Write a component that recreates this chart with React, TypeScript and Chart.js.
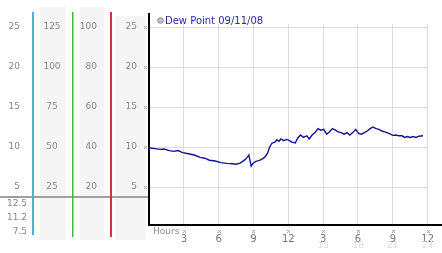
import React, { useEffect, useRef } from 'react';
import { Chart, registerables } from 'chart.js';

Chart.register(...registerables);

// ---- data ----
const hours = [
  0, 0.5, 1.0, 1.3, 1.75, 2.15, 2.5, 2.9, 3.4, 3.9, 4.4, 4.8, 5.2, 5.7, 6.2, 6.7, 7.2, 7.5, 7.8, 8.0,
  8.3, 8.45, 8.6, 8.7, 8.8, 8.95, 9.2, 9.45, 9.7, 9.95, 10.2, 10.4, 10.6, 10.85, 11.0, 11.2, 11.35,
  11.6, 11.85, 12.1, 12.3, 12.6, 12.8, 13.05, 13.3, 13.6, 13.8, 14.05, 14.3, 14.55, 14.8, 15.05,
  15.3, 15.55, 15.8, 16.05, 16.3, 16.55, 16.8, 17.05, 17.3, 17.55, 17.8, 18.05, 18.3, 18.55, 18.8,
  19.05, 19.3, 19.55, 19.8, 20.05, 20.3, 20.5, 20.8, 21.0, 21.3, 21.5, 21.8, 22.0, 22.25, 22.5,
  22.75, 23.0, 23.25, 23.6,
];
const dewPoint = [
  9.9, 9.8, 9.7, 9.75, 9.55, 9.45, 9.55, 9.3, 9.15, 9.0, 8.7, 8.6, 8.35, 8.25, 8.05, 7.95, 7.9, 7.85,
  7.95, 8.15, 8.45, 8.7, 9.0, 8.3, 7.6, 7.95, 8.2, 8.3, 8.45, 8.7, 9.2, 10.0, 10.5, 10.6, 10.9, 10.7,
  11.0, 10.8, 10.95, 10.8, 10.6, 10.5, 11.1, 11.5, 11.2, 11.4, 11.0, 11.5, 11.8, 12.3, 12.1, 12.2,
  11.6, 11.9, 12.3, 12.1, 11.9, 11.8, 11.6, 11.8, 11.5, 11.8, 12.2, 11.7, 11.6, 11.8, 12.0, 12.3,
  12.5, 12.3, 12.2, 12.0, 11.9, 11.8, 11.6, 11.45, 11.5, 11.4, 11.4, 11.2, 11.3, 11.2, 11.3, 11.2,
  11.35, 11.4,
];
const legendLabel = 'Dew Point 09/11/08';
const xTicks = [3, 6, 9, 12, 15, 18, 21, 24];
const xTickLabels = ['3', '6', '9', '12', '3', '6', '9', '12'];
const xSubLabels = ['', '', '', '', '15', '18', '21', '24'];
const yTicks = [5, 10, 15, 20, 25];
const col1Labels = ['5', '10', '15', '20', '25'];
const col2Labels = ['25', '50', '75', '100', '125'];
const col3Labels = ['20', '40', '60', '80', '100'];
const lowerLabels = ['12.5', '11.2', '7.5'];
const axisTitle = 'Hours';

const FONT = '"DejaVu Sans", Verdana, sans-serif';
const LABEL = '#888888';

function drawMark(ctx: CanvasRenderingContext2D, cx: number, cy: number) {
  ctx.fillStyle = '#a8a8a8';
  const x = Math.round(cx) - 1;
  const y = Math.round(cy) - 1;
  ctx.fillRect(x, y, 1, 1);
  ctx.fillRect(x + 2, y, 1, 1);
  ctx.fillRect(x + 1, y + 1, 1, 1);
  ctx.fillRect(x, y + 2, 1, 1);
  ctx.fillRect(x + 2, y + 2, 1, 1);
}

const panelPlugin = {
  id: 'panel',
  beforeDraw(chart: any) {
    const ctx = chart.ctx as CanvasRenderingContext2D;
    const ys = chart.scales.y;
    ctx.save();
    ctx.fillStyle = '#ffffff';
    ctx.fillRect(0, 0, chart.width, chart.height);
    // column backgrounds
    ctx.fillStyle = '#f5f5f5';
    ctx.fillRect(40, 7, 26, 233);
    ctx.fillRect(80, 7, 24, 233);
    ctx.fillRect(115, 16, 31, 224);
    // separator
    ctx.fillStyle = '#a0a0a0';
    ctx.fillRect(0, 196, 149, 2);
    // colored vertical rules
    ctx.fillStyle = '#45b4d8';
    ctx.fillRect(32, 12, 2, 223);
    ctx.fillStyle = '#44b444';
    ctx.fillRect(72, 12, 1.5, 225);
    ctx.fillStyle = '#c43a3a';
    ctx.fillRect(110, 12, 2, 225);
    // column labels
    ctx.font = `9px ${FONT}`;
    ctx.fillStyle = LABEL;
    ctx.textBaseline = 'middle';
    yTicks.forEach((v, i) => {
      const py = ys.getPixelForValue(v);
      ctx.textAlign = 'right';
      ctx.fillText(col1Labels[i], 20, py);
      ctx.textAlign = 'center';
      ctx.fillText(col2Labels[i], 52, py);
      ctx.textAlign = 'right';
      ctx.fillText(col3Labels[i], 97, py);
    });
    ctx.textAlign = 'right';
    lowerLabels.forEach((t, i) => ctx.fillText(t, 27, 204 + i * 14));
    ctx.restore();
  },
  afterDraw(chart: any) {
    const ctx = chart.ctx as CanvasRenderingContext2D;
    const xs = chart.scales.x;
    const ys = chart.scales.y;
    const area = chart.chartArea;
    ctx.save();
    // axis extensions
    ctx.fillStyle = '#000';
    ctx.fillRect(148, 13, 2, area.top - 13 + 1);
    ctx.fillRect(area.right, 224, chart.width - area.right, 2);
    // marks
    yTicks.forEach((v) => drawMark(ctx, 145, ys.getPixelForValue(v)));
    xTicks.forEach((v) => drawMark(ctx, xs.getPixelForValue(v), 231));
    // sub labels
    ctx.font = `9px ${FONT}`;
    ctx.textBaseline = 'middle';
    ctx.textAlign = 'center';
    ctx.fillStyle = '#dedede';
    xTicks.forEach((v, i) => {
      if (xSubLabels[i]) ctx.fillText(xSubLabels[i], xs.getPixelForValue(v), 246);
    });
    // axis title
    ctx.textAlign = 'left';
    ctx.fillStyle = LABEL;
    ctx.fillText(axisTitle, 153, 232);
    // legend
    ctx.beginPath();
    ctx.arc(160.5, 20.5, 2.8, 0, Math.PI * 2);
    ctx.fillStyle = '#c4c4c4';
    ctx.fill();
    ctx.strokeStyle = '#8a8a8a';
    ctx.lineWidth = 1;
    ctx.stroke();
    ctx.font = `10px ${FONT}`;
    ctx.fillStyle = '#2a2aa8';
    ctx.fillText(legendLabel, 165, 21);
    ctx.restore();
  },
};

export default function App() {
  const ref = useRef<HTMLCanvasElement>(null);
  useEffect(() => {
    document.body.style.margin = '0';
    const chart = new Chart(ref.current as HTMLCanvasElement, {
      type: 'line',
      data: {
        datasets: [
          {
            label: legendLabel,
            data: hours.map((h, i) => ({ x: h, y: dewPoint[i] })),
            borderColor: '#14148e',
            borderWidth: 1.4,
            pointRadius: 0,
            tension: 0,
            fill: false,
          },
        ],
      },
      options: {
        animation: false,
        responsive: false,
        devicePixelRatio: 1,
        layout: { padding: { left: 0, top: 24, right: 3, bottom: 0 } },
        plugins: { legend: { display: false }, tooltip: { enabled: false } },
        scales: {
          x: {
            type: 'linear',
            min: 0,
            max: 24,
            afterFit: (s: any) => { s.height = 28; },
            afterBuildTicks: (s: any) => { s.ticks = xTicks.map((v) => ({ value: v })); },
            grid: { color: '#dcdcdc', lineWidth: 1, drawTicks: false },
            border: { color: '#000', width: 2 },
            ticks: {
              padding: 8,
              color: '#777',
              font: { family: FONT, size: 10 },
              maxRotation: 0,
              autoSkip: false,
              callback: (_v: any, i: number) => xTickLabels[i],
            },
          },
          y: {
            type: 'linear',
            min: 0.25,
            max: 25.375,
            afterFit: (s: any) => { s.width = 149; },
            afterBuildTicks: (s: any) => { s.ticks = yTicks.map((v) => ({ value: v })); },
            grid: { color: '#dcdcdc', lineWidth: 1, drawTicks: false },
            border: { color: '#000', width: 2 },
            ticks: {
              padding: 12,
              color: LABEL,
              font: { family: FONT, size: 9 },
              callback: (v: any) => String(v),
            },
          },
        },
      },
      plugins: [panelPlugin],
    });
    return () => chart.destroy();
  }, []);
  return (
    <canvas
      ref={ref}
      width={442}
      height={253}
      style={{ position: 'absolute', left: 0, top: 0, width: 442, height: 253 }}
    />
  );
}
